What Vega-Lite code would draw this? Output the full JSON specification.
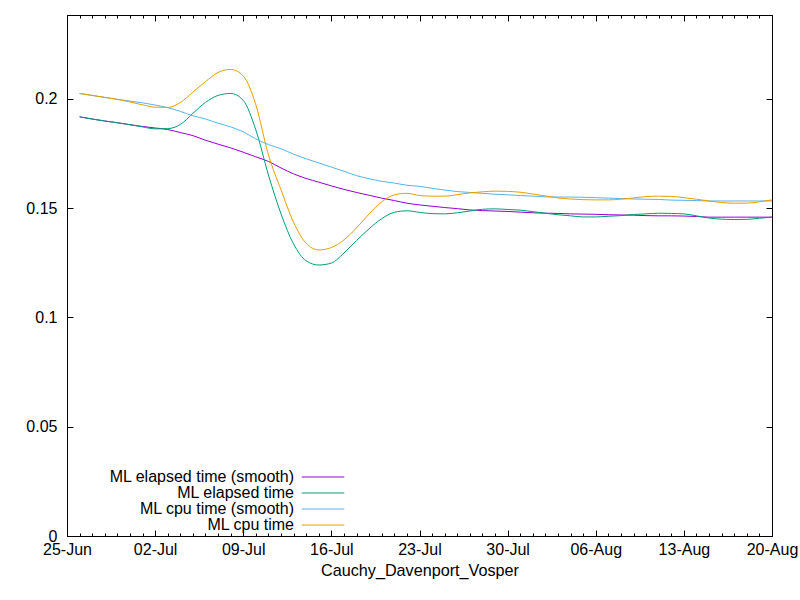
{
  "$schema": "https://vega.github.io/schema/vega-lite/v6.json",
  "autosize": "none",
  "width": 705,
  "height": 521,
  "padding": {"left": 67, "top": 15, "right": 28, "bottom": 64},
  "background": "white",
  "config": {
    "view": {"stroke": "black", "strokeWidth": 1},
    "font": "Liberation Sans",
    "axis": {
      "domain": false,
      "grid": false,
      "tickColor": "black",
      "tickWidth": 1,
      "labelFont": "Liberation Sans",
      "labelFontSize": 16,
      "labelColor": "black",
      "titleFont": "Liberation Sans",
      "titleFontSize": 16.2,
      "titleFontWeight": "normal",
      "titleColor": "black"
    }
  },
  "data": {
    "values": [
      {"date": "2019-06-26", "elapsed_smooth": 0.1918, "elapsed": 0.1918, "cpu_smooth": 0.2025, "cpu": 0.2025},
      {"date": "2019-06-27", "elapsed_smooth": 0.1908, "elapsed": 0.1908, "cpu_smooth": 0.2016, "cpu": 0.2016},
      {"date": "2019-06-28", "elapsed_smooth": 0.1899, "elapsed": 0.1899, "cpu_smooth": 0.2007, "cpu": 0.2007},
      {"date": "2019-06-29", "elapsed_smooth": 0.1891, "elapsed": 0.1891, "cpu_smooth": 0.1998, "cpu": 0.1998},
      {"date": "2019-06-30", "elapsed_smooth": 0.1882, "elapsed": 0.1882, "cpu_smooth": 0.1990, "cpu": 0.1986},
      {"date": "2019-07-01", "elapsed_smooth": 0.1874, "elapsed": 0.1872, "cpu_smooth": 0.1982, "cpu": 0.1973},
      {"date": "2019-07-02", "elapsed_smooth": 0.1867, "elapsed": 0.1863, "cpu_smooth": 0.1972, "cpu": 0.1962},
      {"date": "2019-07-03", "elapsed_smooth": 0.1860, "elapsed": 0.1864, "cpu_smooth": 0.1960, "cpu": 0.1961},
      {"date": "2019-07-04", "elapsed_smooth": 0.1846, "elapsed": 0.1883, "cpu_smooth": 0.1943, "cpu": 0.1983},
      {"date": "2019-07-05", "elapsed_smooth": 0.1832, "elapsed": 0.1934, "cpu_smooth": 0.1923, "cpu": 0.2031},
      {"date": "2019-07-06", "elapsed_smooth": 0.1811, "elapsed": 0.1984, "cpu_smooth": 0.1908, "cpu": 0.2079},
      {"date": "2019-07-07", "elapsed_smooth": 0.1793, "elapsed": 0.2016, "cpu_smooth": 0.1889, "cpu": 0.2121},
      {"date": "2019-07-08", "elapsed_smooth": 0.1776, "elapsed": 0.2025, "cpu_smooth": 0.1872, "cpu": 0.2135},
      {"date": "2019-07-09", "elapsed_smooth": 0.1756, "elapsed": 0.1993, "cpu_smooth": 0.1849, "cpu": 0.2105},
      {"date": "2019-07-10", "elapsed_smooth": 0.1735, "elapsed": 0.1858, "cpu_smooth": 0.1817, "cpu": 0.1973},
      {"date": "2019-07-11", "elapsed_smooth": 0.1714, "elapsed": 0.1652, "cpu_smooth": 0.1791, "cpu": 0.1744},
      {"date": "2019-07-12", "elapsed_smooth": 0.1684, "elapsed": 0.1474, "cpu_smooth": 0.1772, "cpu": 0.1584},
      {"date": "2019-07-13", "elapsed_smooth": 0.1657, "elapsed": 0.1336, "cpu_smooth": 0.1747, "cpu": 0.1435},
      {"date": "2019-07-14", "elapsed_smooth": 0.1636, "elapsed": 0.1259, "cpu_smooth": 0.1726, "cpu": 0.1339},
      {"date": "2019-07-15", "elapsed_smooth": 0.1619, "elapsed": 0.1240, "cpu_smooth": 0.1707, "cpu": 0.1309},
      {"date": "2019-07-16", "elapsed_smooth": 0.1602, "elapsed": 0.1249, "cpu_smooth": 0.1688, "cpu": 0.1320},
      {"date": "2019-07-17", "elapsed_smooth": 0.1586, "elapsed": 0.1295, "cpu_smooth": 0.1669, "cpu": 0.1355},
      {"date": "2019-07-18", "elapsed_smooth": 0.1572, "elapsed": 0.1352, "cpu_smooth": 0.1649, "cpu": 0.1410},
      {"date": "2019-07-19", "elapsed_smooth": 0.1559, "elapsed": 0.1406, "cpu_smooth": 0.1635, "cpu": 0.1474},
      {"date": "2019-07-20", "elapsed_smooth": 0.1546, "elapsed": 0.1452, "cpu_smooth": 0.1623, "cpu": 0.1529},
      {"date": "2019-07-21", "elapsed_smooth": 0.1535, "elapsed": 0.1481, "cpu_smooth": 0.1615, "cpu": 0.1561},
      {"date": "2019-07-22", "elapsed_smooth": 0.1523, "elapsed": 0.1488, "cpu_smooth": 0.1605, "cpu": 0.1568},
      {"date": "2019-07-23", "elapsed_smooth": 0.1515, "elapsed": 0.1481, "cpu_smooth": 0.1600, "cpu": 0.1558},
      {"date": "2019-07-24", "elapsed_smooth": 0.1509, "elapsed": 0.1475, "cpu_smooth": 0.1591, "cpu": 0.1555},
      {"date": "2019-07-25", "elapsed_smooth": 0.1503, "elapsed": 0.1474, "cpu_smooth": 0.1583, "cpu": 0.1555},
      {"date": "2019-07-26", "elapsed_smooth": 0.1498, "elapsed": 0.1479, "cpu_smooth": 0.1576, "cpu": 0.1562},
      {"date": "2019-07-27", "elapsed_smooth": 0.1492, "elapsed": 0.1487, "cpu_smooth": 0.1572, "cpu": 0.1570},
      {"date": "2019-07-28", "elapsed_smooth": 0.1489, "elapsed": 0.1495, "cpu_smooth": 0.1568, "cpu": 0.1575},
      {"date": "2019-07-29", "elapsed_smooth": 0.1487, "elapsed": 0.1497, "cpu_smooth": 0.1564, "cpu": 0.1578},
      {"date": "2019-07-30", "elapsed_smooth": 0.1485, "elapsed": 0.1494, "cpu_smooth": 0.1561, "cpu": 0.1577},
      {"date": "2019-07-31", "elapsed_smooth": 0.1482, "elapsed": 0.1491, "cpu_smooth": 0.1558, "cpu": 0.1573},
      {"date": "2019-08-01", "elapsed_smooth": 0.1479, "elapsed": 0.1484, "cpu_smooth": 0.1555, "cpu": 0.1565},
      {"date": "2019-08-02", "elapsed_smooth": 0.1477, "elapsed": 0.1477, "cpu_smooth": 0.1552, "cpu": 0.1556},
      {"date": "2019-08-03", "elapsed_smooth": 0.1476, "elapsed": 0.1470, "cpu_smooth": 0.1551, "cpu": 0.1547},
      {"date": "2019-08-04", "elapsed_smooth": 0.1474, "elapsed": 0.1465, "cpu_smooth": 0.1551, "cpu": 0.1542},
      {"date": "2019-08-05", "elapsed_smooth": 0.1473, "elapsed": 0.1460, "cpu_smooth": 0.1550, "cpu": 0.1539},
      {"date": "2019-08-06", "elapsed_smooth": 0.1472, "elapsed": 0.1460, "cpu_smooth": 0.1548, "cpu": 0.1538},
      {"date": "2019-08-07", "elapsed_smooth": 0.1470, "elapsed": 0.1463, "cpu_smooth": 0.1546, "cpu": 0.1538},
      {"date": "2019-08-08", "elapsed_smooth": 0.1469, "elapsed": 0.1466, "cpu_smooth": 0.1544, "cpu": 0.1541},
      {"date": "2019-08-09", "elapsed_smooth": 0.1468, "elapsed": 0.1471, "cpu_smooth": 0.1542, "cpu": 0.1547},
      {"date": "2019-08-10", "elapsed_smooth": 0.1466, "elapsed": 0.1474, "cpu_smooth": 0.1541, "cpu": 0.1553},
      {"date": "2019-08-11", "elapsed_smooth": 0.1465, "elapsed": 0.1477, "cpu_smooth": 0.1540, "cpu": 0.1555},
      {"date": "2019-08-12", "elapsed_smooth": 0.1465, "elapsed": 0.1476, "cpu_smooth": 0.1537, "cpu": 0.1554},
      {"date": "2019-08-13", "elapsed_smooth": 0.1464, "elapsed": 0.1474, "cpu_smooth": 0.1536, "cpu": 0.1548},
      {"date": "2019-08-14", "elapsed_smooth": 0.1462, "elapsed": 0.1465, "cpu_smooth": 0.1535, "cpu": 0.1541},
      {"date": "2019-08-15", "elapsed_smooth": 0.1459, "elapsed": 0.1455, "cpu_smooth": 0.1533, "cpu": 0.1533},
      {"date": "2019-08-16", "elapsed_smooth": 0.1459, "elapsed": 0.1450, "cpu_smooth": 0.1533, "cpu": 0.1526},
      {"date": "2019-08-17", "elapsed_smooth": 0.1459, "elapsed": 0.1448, "cpu_smooth": 0.1533, "cpu": 0.1523},
      {"date": "2019-08-18", "elapsed_smooth": 0.1459, "elapsed": 0.1449, "cpu_smooth": 0.1533, "cpu": 0.1523},
      {"date": "2019-08-19", "elapsed_smooth": 0.1459, "elapsed": 0.1454, "cpu_smooth": 0.1533, "cpu": 0.1529},
      {"date": "2019-08-20", "elapsed_smooth": 0.1459, "elapsed": 0.1459, "cpu_smooth": 0.1533, "cpu": 0.1538}
    ]
  },
  "transform": [
    {"fold": ["elapsed_smooth", "elapsed", "cpu_smooth", "cpu"], "as": ["series", "value"]}
  ],
  "layer": [
    {
      "mark": {"type": "line", "strokeWidth": 1, "interpolate": "monotone"},
      "encoding": {
        "x": {
          "field": "date",
          "type": "temporal",
          "scale": {
            "type": "utc",
            "domain": [
              {"year": 2019, "month": 6, "date": 25, "utc": true},
              {"year": 2019, "month": 8, "date": 20, "utc": true}
            ]
          },
          "axis": {
            "orient": "bottom",
            "title": "Cauchy_Davenport_Vosper",
            "titlePadding": 5,
            "labelExpr": "utcFormat(datum.value, '%d-%b')",
            "labelFlush": false,
            "labelOverlap": false,
            "tickSize": -6,
            "labelPadding": 11,
            "values": [
              {"year": 2019, "month": 6, "date": 25, "utc": true},
              {"year": 2019, "month": 7, "date": 2, "utc": true},
              {"year": 2019, "month": 7, "date": 9, "utc": true},
              {"year": 2019, "month": 7, "date": 16, "utc": true},
              {"year": 2019, "month": 7, "date": 23, "utc": true},
              {"year": 2019, "month": 7, "date": 30, "utc": true},
              {"year": 2019, "month": 8, "date": 6, "utc": true},
              {"year": 2019, "month": 8, "date": 13, "utc": true},
              {"year": 2019, "month": 8, "date": 20, "utc": true}
            ]
          }
        },
        "y": {
          "field": "value",
          "type": "quantitative",
          "scale": {"domain": [0, 0.2384], "nice": false},
          "axis": {
            "orient": "left",
            "title": null,
            "format": "~g",
            "values": [0, 0.05, 0.1, 0.15, 0.2],
            "labelFlush": false,
            "tickSize": -6,
            "labelPadding": 16
          }
        },
        "color": {
          "field": "series",
          "type": "nominal",
          "scale": {
            "domain": ["elapsed_smooth", "elapsed", "cpu_smooth", "cpu"],
            "range": ["#9400d3", "#009e73", "#56b4e9", "#e69f00"]
          },
          "legend": {
            "title": null,
            "orient": "none",
            "legendX": 248,
            "legendY": 454,
            "padding": 0,
            "symbolType": "M-5,0H5",
            "symbolSize": 72.6,
            "symbolStrokeWidth": 1,
            "rowPadding": 0,
            "labelAlign": "right",
            "labelOffset": -37,
            "labelLimit": 400,
            "labelFont": "Liberation Sans",
            "labelFontSize": 16,
            "labelColor": "black",
            "labelExpr": "{'elapsed_smooth': 'ML elapsed time (smooth)', 'elapsed': 'ML elapsed time', 'cpu_smooth': 'ML cpu time (smooth)', 'cpu': 'ML cpu time'}[datum.label]"
          }
        }
      }
    },
    {
      "mark": {"type": "point", "opacity": 0},
      "encoding": {
        "x": {
          "field": "date",
          "type": "temporal",
          "axis": {"orient": "bottom", "title": null, "labels": false, "tickSize": -3, "tickCount": {"interval": "day", "step": 1}}
        },
        "y": {
          "field": "value",
          "type": "quantitative",
          "axis": {"orient": "right", "title": null, "labels": false, "tickSize": -6, "values": [0, 0.05, 0.1, 0.15, 0.2]}
        }
      }
    },
    {
      "mark": {"type": "point", "opacity": 0},
      "encoding": {
        "x": {
          "field": "date",
          "type": "temporal",
          "axis": {
            "orient": "top",
            "title": null,
            "labels": false,
            "tickSize": -6,
            "values": [
              {"year": 2019, "month": 6, "date": 25, "utc": true},
              {"year": 2019, "month": 7, "date": 2, "utc": true},
              {"year": 2019, "month": 7, "date": 9, "utc": true},
              {"year": 2019, "month": 7, "date": 16, "utc": true},
              {"year": 2019, "month": 7, "date": 23, "utc": true},
              {"year": 2019, "month": 7, "date": 30, "utc": true},
              {"year": 2019, "month": 8, "date": 6, "utc": true},
              {"year": 2019, "month": 8, "date": 13, "utc": true},
              {"year": 2019, "month": 8, "date": 20, "utc": true}
            ]
          }
        },
        "y": {"field": "value", "type": "quantitative", "axis": null}
      }
    },
    {
      "mark": {"type": "point", "opacity": 0},
      "encoding": {
        "x": {
          "field": "date",
          "type": "temporal",
          "axis": {"orient": "top", "title": null, "labels": false, "tickSize": -3, "tickCount": {"interval": "day", "step": 1}}
        },
        "y": {"field": "value", "type": "quantitative", "axis": null}
      }
    }
  ],
  "resolve": {"axis": {"x": "independent", "y": "independent"}}
}
